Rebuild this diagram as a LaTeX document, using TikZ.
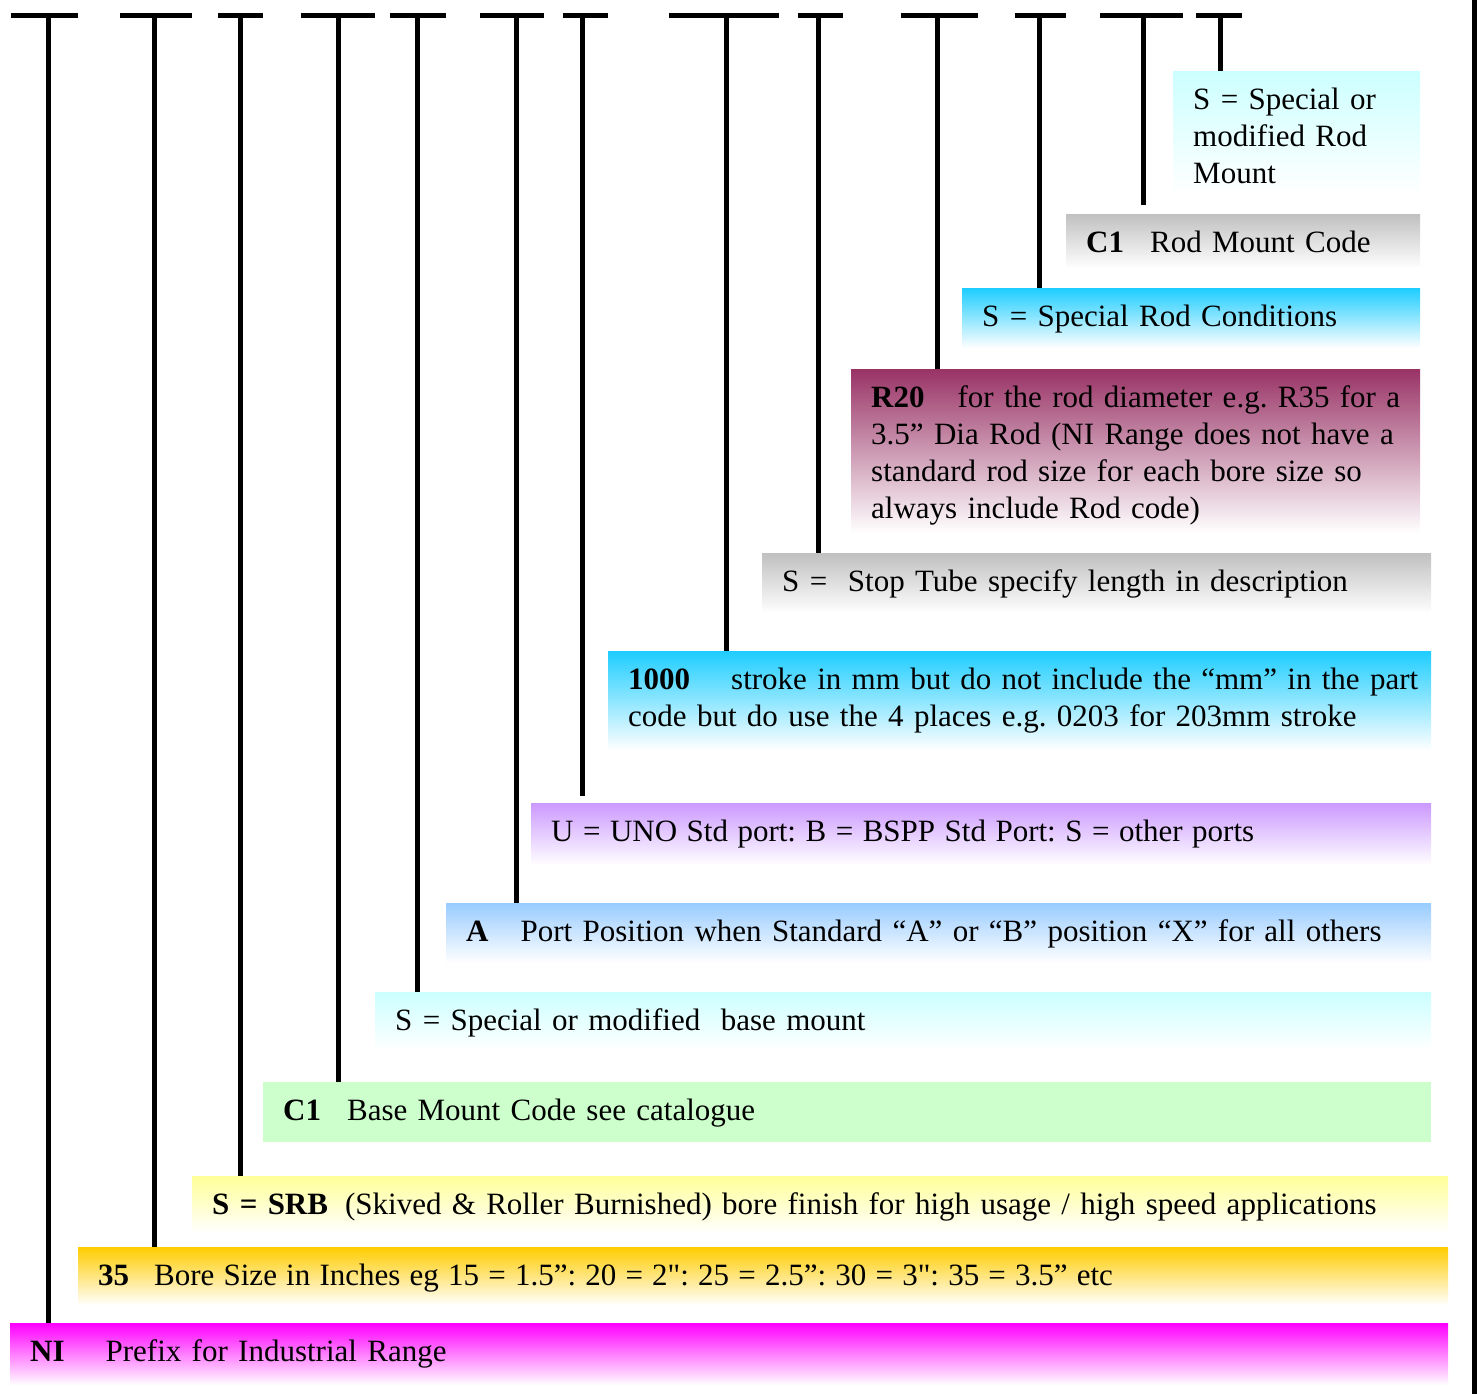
\documentclass[tikz,border=0pt]{standalone}
\usepackage{fontspec}
\setmainfont{Liberation Serif}[Ligatures=TeXOff]
\usepackage{tikz}

\definecolor{icecyan}{RGB}{204,255,255}
\definecolor{codegray}{RGB}{192,192,192}
\definecolor{skycyan}{RGB}{30,205,255}
\definecolor{plum}{RGB}{153,51,102}
\definecolor{lilac}{RGB}{204,153,255}
\definecolor{paleblue}{RGB}{153,204,255}
\definecolor{mint}{RGB}{204,255,204}
\definecolor{lemon}{RGB}{255,255,153}
\definecolor{goldish}{RGB}{255,204,0}
\definecolor{pinkish}{RGB}{255,0,255}

\begin{document}
\frenchspacing
\begin{tikzpicture}[x=1pt,y=-1pt,
        codebox/.style={anchor=north west,inner xsep=20pt,inner ysep=0pt,
          text height=38pt,align=left,font=\fontsize{31}{37}\selectfont},
        fade/.style={top color=#1,bottom color=white},
        bar/.style={line width=5pt},
        stem/.style={line width=5pt}]
        \useasboundingbox (0,0) rectangle (1478,1394);
        %
        \node [codebox,fade=icecyan,text width=207pt,text depth=84pt]
          (rodspec) at (1173,71) {S = Special or\\modified Rod\\Mount};
        \node [codebox,fade=codegray,text width=314pt,text depth=16pt]
          (rodmount) at (1066,214) {\textbf{C1}\hspace{26pt}Rod Mount Code};
        \node [codebox,fade=skycyan,text width=418pt,text depth=22pt]
          (rodcond) at (962,288) {S = Special Rod Conditions};
        \node [codebox,fade=plum,text width=529pt,text depth=126pt]
          (roddia) at (851,369) {\mbox{\textbf{R20}\hspace{33pt}for the rod diameter e.g. R35 for a}\\
          \mbox{3.5” Dia Rod (NI Range does not have a}\\
          standard rod size for each bore size so\\
          always include Rod code)};
        \node [codebox,fade=codegray,text width=629pt,text depth=22pt]
          (stoptube) at (762,553) {S =\ \ Stop Tube specify length in description};
        \node [codebox,fade=skycyan,text width=783pt,text depth=61pt]
          (stroke) at (608,651) {\mbox{\textbf{1000}\hspace{41pt}stroke in mm but do not include the “mm” in the part}\\
          code but do use the 4 places e.g. 0203 for 203mm stroke};
        \node [codebox,fade=lilac,text width=860pt,text depth=24pt]
          (ports) at (531,803) {\spaceskip=9.5pt U = UNO Std port: B = BSPP Std Port: S = other ports};
        \node [codebox,fade=paleblue,text width=945pt,text depth=22pt]
          (portpos) at (446,903) {\textbf{A}\hspace{32pt}Port Position when Standard “A” or “B” position “X” for all others};
        \node [codebox,fade=icecyan,text width=1016pt,text depth=20pt]
          (basespec) at (375,992) {S = Special or modified\ \ base mount};
        \node [codebox,fill=mint,text width=1128pt,text depth=22pt]
          (basemount) at (263,1082) {\textbf{C1}\hspace{26pt}Base Mount Code see catalogue};
        \node [codebox,fade=lemon,text width=1216pt,text depth=19pt]
          (finish) at (192,1176) {\textbf{S = SRB}\hspace{17pt}(Skived \& Roller Burnished) bore finish for high usage / high speed applications};
        \node [codebox,fade=goldish,text width=1330pt,text depth=20pt]
          (bore) at (78,1247) {\textbf{35}\hspace{25pt}{\spaceskip=9.2pt Bore Size in Inches eg 15 = 1.5”: 20 = 2": 25 = 2.5”: 30 = 3": 35 = 3.5” etc}};
        \node [codebox,fade=pinkish,text width=1398pt,text depth=24pt]
          (prefix) at (10,1323) {\textbf{NI}\hspace{41pt}Prefix for Industrial Range};
        %
        \coordinate (t1) at (48,16);
        \coordinate (t2) at (154,16);
        \coordinate (t3) at (240,16);
        \coordinate (t4) at (338,16);
        \coordinate (t5) at (417,16);
        \coordinate (t6) at (516,16);
        \coordinate (t7) at (582,16);
        \coordinate (t8) at (726,16);
        \coordinate (t9) at (818,16);
        \coordinate (t10) at (937,16);
        \coordinate (t11) at (1039,16);
        \coordinate (t12) at (1143,16);
        \coordinate (t13) at (1220,16);
        %
        \draw [bar] (11,16) -- (78,16);
        \draw [bar] (120,16) -- (192,16);
        \draw [bar] (218,16) -- (263,16);
        \draw [bar] (301,16) -- (375,16);
        \draw [bar] (390,16) -- (446,16);
        \draw [bar] (480,16) -- (544,16);
        \draw [bar] (563,16) -- (608,16);
        \draw [bar] (669,16) -- (779,16);
        \draw [bar] (798,16) -- (843,16);
        \draw [bar] (901,16) -- (978,16);
        \draw [bar] (1015,16) -- (1066,16);
        \draw [bar] (1100,16) -- (1183,16);
        \draw [bar] (1196,16) -- (1242,16);
        %
        \draw [stem] (t1) -- (t1 |- prefix.north);
        \draw [stem] (t2) -- (t2 |- bore.north);
        \draw [stem] (t3) -- (t3 |- finish.north);
        \draw [stem] (t4) -- (t4 |- basemount.north);
        \draw [stem] (t5) -- (t5 |- basespec.north);
        \draw [stem] (t6) -- (t6 |- portpos.north);
        \draw [stem,shorten >=7pt] (t7) -- (t7 |- ports.north);
        \draw [stem] (t8) -- (t8 |- stroke.north);
        \draw [stem] (t9) -- (t9 |- stoptube.north);
        \draw [stem] (t10) -- (t10 |- roddia.north);
        \draw [stem] (t11) -- (t11 |- rodcond.north);
        \draw [stem,shorten >=9pt] (t12) -- (t12 |- rodmount.north);
        \draw [stem] (t13) -- (t13 |- rodspec.north);
        %
        \draw [line width=5pt] (1474.5,0) -- (1474.5,1394);
      \end{tikzpicture}
\end{document}
